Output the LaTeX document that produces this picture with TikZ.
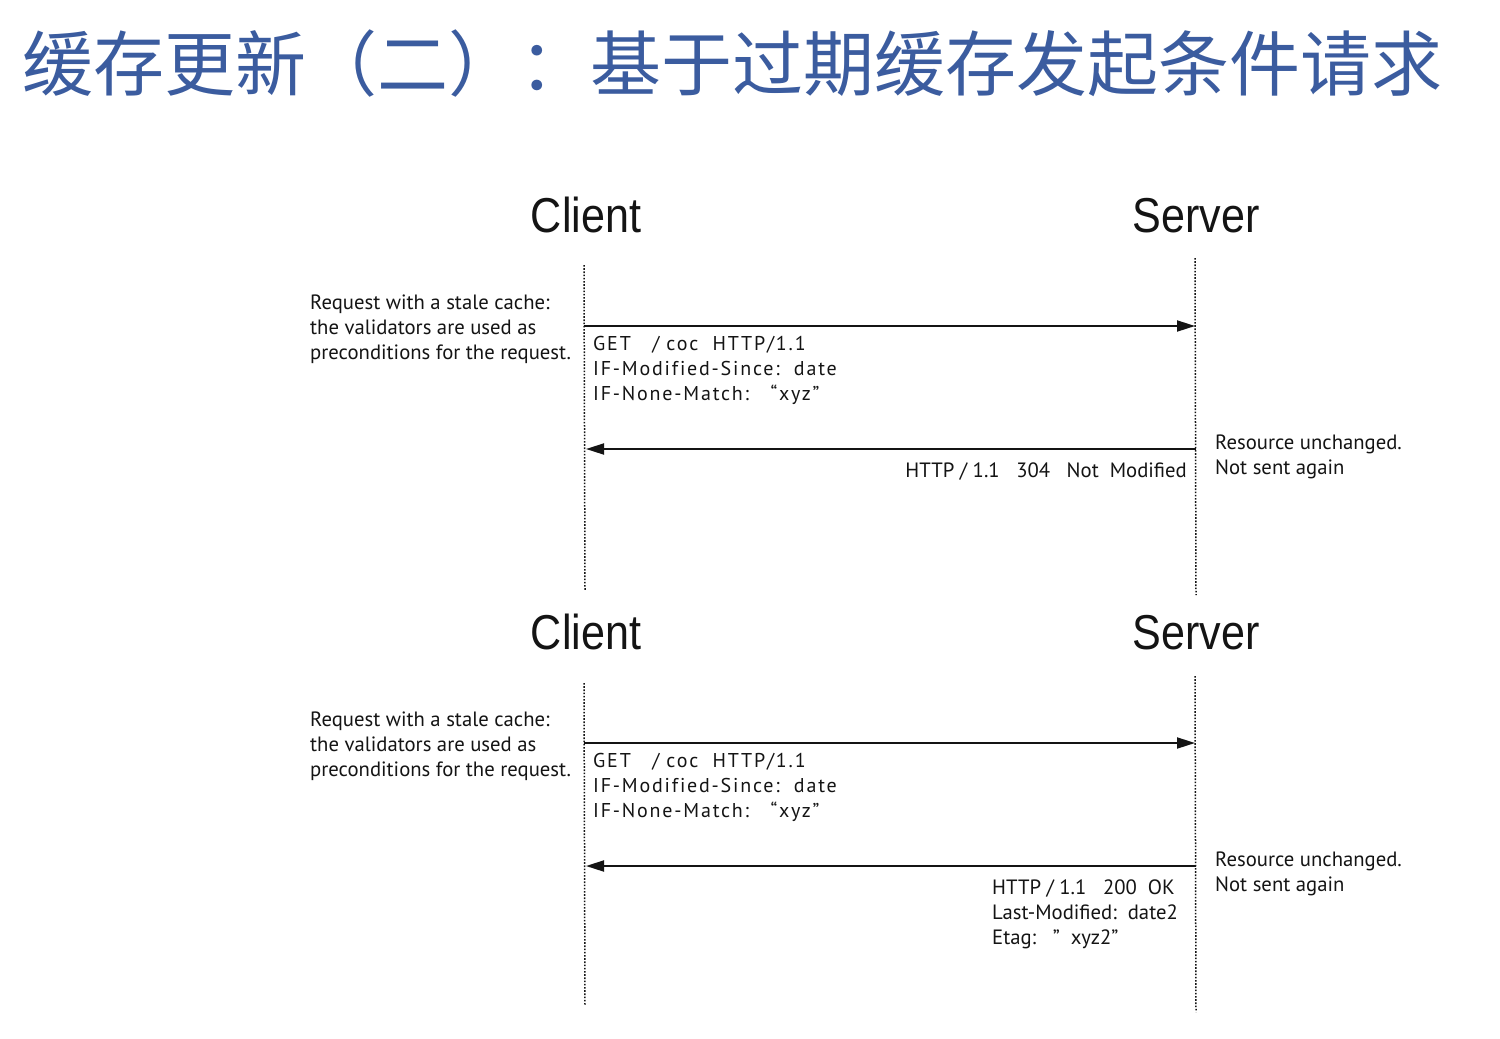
\documentclass[tikz,border=0pt]{standalone}
\usepackage{fontspec}
\usetikzlibrary{arrows.meta}
\newfontfamily\cjkfont{Noto Sans CJK SC}
\newfontfamily\labfont{Liberation Sans}
\newfontfamily\bodyfont{PT Sans}
\newfontfamily\codefont[LetterSpace=9,Ligatures=NoCommon]{PT Sans}
\definecolor{titleblue}{HTML}{3B5C9F}
\definecolor{ink}{HTML}{141414}
\tikzset{
  titletext/.style={anchor=base west,inner sep=0,text=titleblue,font=\cjkfont\fontsize{71}{80}\selectfont},
  actor/.style={anchor=base,inner sep=0,text=ink,font=\labfont\fontsize{49}{55}\selectfont,xscale=0.88},
  note/.style={anchor=base west,inner sep=0,text=ink,font=\bodyfont\fontsize{20.7}{25}\selectfont},
  noteR/.style={anchor=base east,inner sep=0,text=ink,font=\bodyfont\fontsize{20.7}{25}\selectfont},
  code/.style={anchor=base west,inner sep=0,text=ink,font=\codefont\fontsize{20}{25}\selectfont},
  lifeline/.style={draw=ink,line width=1.5pt,dash pattern=on 1.6pt off 1.6pt},
  msg/.style={draw=ink,line width=1.9pt,-{Triangle[length=18pt,width=11pt]}}
}
\begin{document}
\begin{tikzpicture}[x=1pt,y=-1pt]
\useasboundingbox[fill=white] (0,0) rectangle (1500,1039);
\node[titletext] (title) at (22,90) {缓存更新（二）：基于过期缓存发起条件请求};

% ---------- diagram 1 ----------
\node[actor] (clientA) at (586,232) {Client};
\node[actor] (serverA) at (1196,232) {Server};
\coordinate (cAtop) at (584,265);
\coordinate (cAbot) at (585,590);
\coordinate (sAtop) at (1195,258);
\coordinate (sAbot) at (1196,595);
\draw[lifeline] (cAtop) -- (cAbot);
\draw[lifeline] (sAtop) -- (sAbot);
\coordinate (reqAfrom) at (584,326);
\coordinate (reqAto) at (1195,326);
\draw[msg] (reqAfrom) -- (reqAto);
\coordinate (respAfrom) at (1196,449);
\coordinate (respAto) at (586,449);
\draw[msg] (respAfrom) -- (respAto);
\node[note] (reqA1) at (310,309) {Request with a stale cache:};
\node[note] (reqA2) at (310,334) {the validators are used as};
\node[note] (reqA3) at (310,359) {preconditions for the request.};
\node[code] (getA1) at (593,350) {GET\ \ \ / coc\ \ HTTP/1.1};
\node[code] (getA2) at (593,375) {IF-Modified-Since:\ \ date};
\node[code] (getA3) at (593,400) {IF-None-Match:\ \ \ “xyz”};
\node[noteR] (respA1) at (1187,477) {HTTP / 1.1\ \ \ 304\ \ \ Not\ \ Modified};
\node[note] (resA1) at (1215,449) {Resource unchanged.};
\node[note] (resA2) at (1215,474) {Not sent again};

% ---------- diagram 2 ----------
\node[actor] (clientB) at (586,649) {Client};
\node[actor] (serverB) at (1196,649) {Server};
\coordinate (cBtop) at (584,683);
\coordinate (cBbot) at (585,1006);
\coordinate (sBtop) at (1195,676);
\coordinate (sBbot) at (1196,1012);
\draw[lifeline] (cBtop) -- (cBbot);
\draw[lifeline] (sBtop) -- (sBbot);
\coordinate (reqBfrom) at (584,743);
\coordinate (reqBto) at (1195,743);
\draw[msg] (reqBfrom) -- (reqBto);
\coordinate (respBfrom) at (1196,866);
\coordinate (respBto) at (586,866);
\draw[msg] (respBfrom) -- (respBto);
\node[note] (reqB1) at (310,726) {Request with a stale cache:};
\node[note] (reqB2) at (310,751) {the validators are used as};
\node[note] (reqB3) at (310,776) {preconditions for the request.};
\node[code] (getB1) at (593,767) {GET\ \ \ / coc\ \ HTTP/1.1};
\node[code] (getB2) at (593,792) {IF-Modified-Since:\ \ date};
\node[code] (getB3) at (593,817) {IF-None-Match:\ \ \ “xyz”};
\node[note] (respB1) at (992,894) {HTTP / 1.1\ \ \ 200\ \ OK};
\node[note] (respB2) at (992,919) {Last-Modified:\ \ date2};
\node[note] (respB3) at (992,944) {Etag:\ \ \ ”\ \ xyz2”};
\node[note] (resB1) at (1215,866) {Resource unchanged.};
\node[note] (resB2) at (1215,891) {Not sent again};
\end{tikzpicture}
\end{document}
